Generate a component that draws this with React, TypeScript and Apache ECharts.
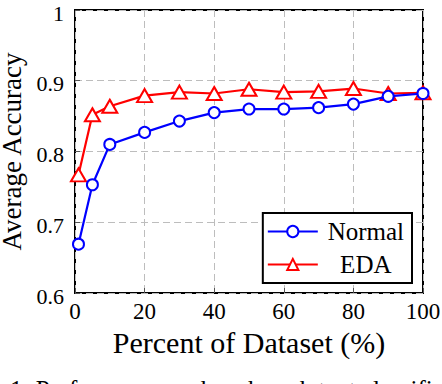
import React, { useEffect, useRef } from "react";
import * as echarts from "echarts";

const percents = [1, 5, 10, 20, 30, 40, 50, 60, 70, 80, 90, 100];
const normalAcc = [0.669, 0.753, 0.81, 0.827, 0.843, 0.855, 0.86, 0.86, 0.862, 0.867, 0.878, 0.882];
const edaAcc = [0.767, 0.852, 0.864, 0.879, 0.884, 0.882, 0.888, 0.884, 0.885, 0.889, 0.882, 0.883];
const seriesNames = ["Normal", "EDA"];
const xTitle = "Percent of Dataset (%)";
const yTitle = "Average Accuracy";
const caption = "1: Performance on benchmark text classification";

const FONT = "'Liberation Serif', 'DejaVu Serif', serif";

export default function App() {
  const ref = useRef<HTMLDivElement>(null);
  useEffect(() => {
    if (!ref.current) return;
    const chart = echarts.init(ref.current, null, { renderer: "svg" });
    const grid = { left: 75, right: 19, top: 10, bottom: 91 };
    const splitLine = { show: true, lineStyle: { color: "#bdbdbd", type: [7, 4] as any, width: 1 } };
    const tick = { show: true, inside: true, length: 5, lineStyle: { color: "#555", width: 1 } };
    chart.setOption({
      animation: false,
      backgroundColor: "#fff",
      textStyle: { fontFamily: FONT },
      grid: {
        ...grid,
        outerBoundsMode: "none",
        containLabel: false,
        show: true,
        borderColor: "#000",
        borderWidth: 2,
        backgroundColor: "transparent",
      },
      xAxis: {
        type: "value",
        min: 0,
        max: 100,
        interval: 20,
        name: xTitle,
        nameLocation: "middle",
        nameGap: 30,
        nameTextStyle: { fontFamily: FONT, fontSize: 30, color: "#000" },
        axisLine: { show: false },
        axisTick: tick,
        axisLabel: { fontFamily: FONT, fontSize: 23, color: "#000", margin: 7 },
        splitLine,
      },
      yAxis: {
        type: "value",
        min: 0.6,
        max: 1,
        interval: 0.1,
        name: yTitle,
        nameLocation: "middle",
        nameGap: 42,
        nameTextStyle: { fontFamily: FONT, fontSize: 27, lineHeight: 27, color: "#000" },
        axisLine: { show: false },
        axisTick: tick,
        axisLabel: {
          color: "#000",
          margin: 11,
          formatter: (v: number) => `{v|${Math.round(v * 10) / 10}}`,
          rich: {
            v: { fontFamily: FONT, fontSize: 22, color: "#000", padding: [6, 0, 0, 0] },
          },
        },
        splitLine,
      },
      legend: {
        orient: "vertical",
        right: 30,
        bottom: 101,
        backgroundColor: "#fff",
        borderColor: "#000",
        borderWidth: 2,
        borderRadius: 0,
        padding: [6, 8, 6, 4],
        itemGap: 8,
        itemWidth: 50,
        itemHeight: 14,
        data: seriesNames,
        formatter: (name: string) => `{t|${name}}`,
        textStyle: {
          rich: {
            t: { fontFamily: FONT, fontSize: 25, color: "#000", width: 86, align: "center" },
          },
        },
      },
      graphic: [
        {
          type: "text",
          left: 10,
          top: 377,
          style: { text: caption, font: `25px ${FONT}`, fill: "#000" },
        },
      ],
      series: [
        {
          name: seriesNames[0],
          type: "line",
          data: percents.map((p, i) => [p, normalAcc[i]]),
          symbol: "emptyCircle",
          symbolSize: 11,
          color: "#0000ff",
          lineStyle: { color: "#0000ff", width: 2.2 },
          itemStyle: { color: "#0000ff", borderColor: "#0000ff", borderWidth: 2.2 },
          z: 3,
        },
        {
          name: seriesNames[1],
          type: "line",
          data: percents.map((p, i) => [p, edaAcc[i]]),
          symbol: "emptyTriangle",
          symbolSize: [15, 13],
          color: "#ff0000",
          lineStyle: { color: "#ff0000", width: 2.2 },
          itemStyle: { color: "#ff0000", borderColor: "#ff0000", borderWidth: 2.2 },
          z: 2,
        },
      ],
    });
    return () => chart.dispose();
  }, []);
  return <div ref={ref} style={{ width: 442, height: 384, position: "absolute", left: 0, top: 0 }} />;
}
